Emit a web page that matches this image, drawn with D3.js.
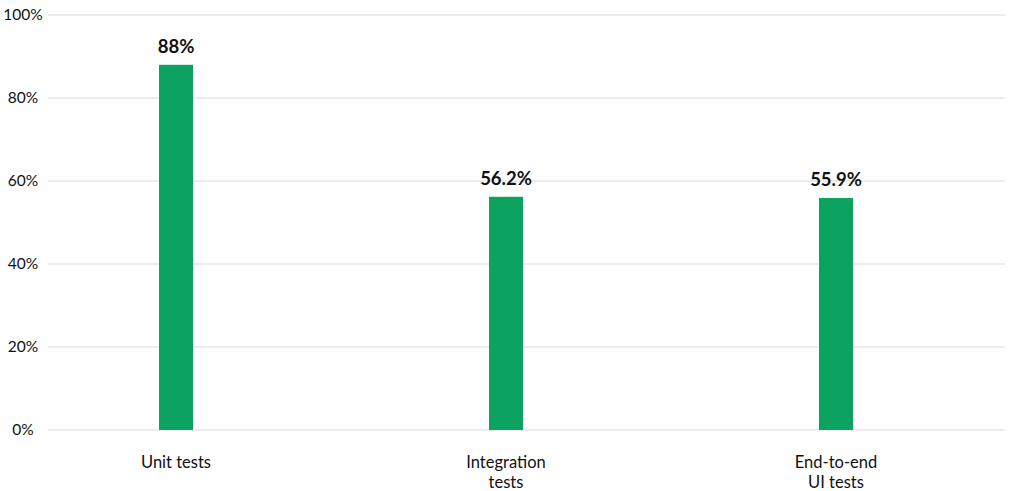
<!DOCTYPE html>
<html>
<head>
<meta charset="utf-8">
<script src="https://cdn.jsdelivr.net/npm/d3@7"></script>
<style>
  html, body { margin: 0; padding: 0; background: #fff; }
  svg { display: block; font-family: Lato, "Open Sans", sans-serif; }
</style>
</head>
<body>
<svg id="chart" width="1009" height="491"></svg>
<script>
// Share of respondents by test type
const categories = [["Unit tests"], ["Integration", "tests"], ["End-to-end", "UI tests"]];
const values = [88, 56.2, 55.9];
const valueLabels = ["88%", "56.2%", "55.9%"];
const yTicks = [0, 20, 40, 60, 80, 100];

const svg = d3.select("#chart");

const x = d3.scaleBand()
  .domain(d3.range(categories.length))
  .range([11, 1001])
  .paddingInner(0)
  .paddingOuter(0);

const y = d3.scaleLinear().domain([0, 100]).range([430, 15]);

// Horizontal gridlines
const grid = svg.append("g");
grid.selectAll("line")
  .data(yTicks)
  .join("line")
  .attr("x1", 48).attr("x2", 1005)
  .attr("y1", d => y(d)).attr("y2", d => y(d))
  .attr("stroke", "#e6e6e6")
  .attr("stroke-width", 1.5);

// Y-axis tick labels
const yAxis = d3.axisLeft(y).tickValues(yTicks).tickFormat(d => d + "%").tickSize(0);
const yg = svg.append("g").attr("transform", "translate(23,0)").call(yAxis);
yg.select(".domain").remove();
yg.selectAll("text")
  .attr("x", 0)
  .attr("text-anchor", "middle")
  .attr("fill", "#111")
  .attr("font-size", 15.5)
  .attr("font-family", "Lato, sans-serif");

// Bars
const barW = 34;
svg.append("g").selectAll("rect")
  .data(values)
  .join("rect")
  .attr("x", (d, i) => x(i) + x.bandwidth() / 2 - barW / 2)
  .attr("width", barW)
  .attr("y", d => y(d))
  .attr("height", d => y(0) - y(d))
  .attr("fill", "#0ca360");

// Value labels
svg.append("g").selectAll("text")
  .data(values)
  .join("text")
  .attr("x", (d, i) => x(i) + x.bandwidth() / 2)
  .attr("y", d => y(d) - 12)
  .attr("text-anchor", "middle")
  .attr("font-size", 18.5)
  .attr("font-weight", 700)
  .attr("fill", "#111")
  .text((d, i) => valueLabels[i]);

// Category labels
const cat = svg.append("g").selectAll("text")
  .data(categories)
  .join("text")
  .attr("x", (d, i) => x(i) + x.bandwidth() / 2)
  .attr("y", 468)
  .attr("text-anchor", "middle")
  .attr("font-size", 16.5)
  .attr("fill", "#111");
cat.selectAll("tspan")
  .data(d => d)
  .join("tspan")
  .attr("x", function () { return d3.select(this.parentNode).attr("x"); })
  .attr("dy", (d, i) => i === 0 ? 0 : 19.5)
  .text(d => d);
</script>
</body>
</html>
